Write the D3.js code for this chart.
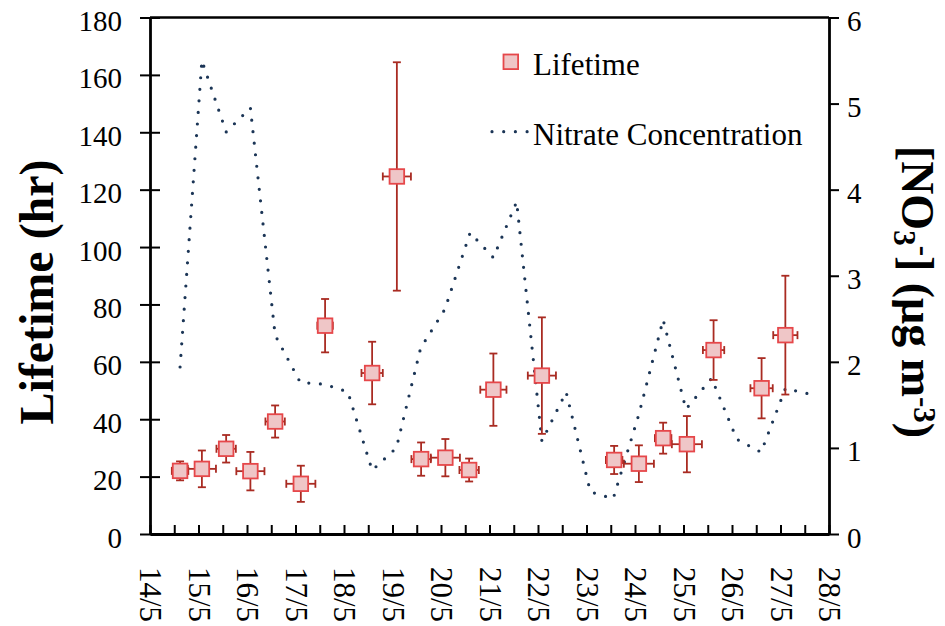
<!DOCTYPE html>
<html><head><meta charset="utf-8">
<script src="https://cdn.jsdelivr.net/npm/d3@7"></script>
<style>body{margin:0;background:#fff}svg{display:block}text{font-family:"Liberation Serif","Times New Roman",serif;fill:#000}</style>
</head><body><svg id="c" width="945" height="626"></svg>
<script>
// ---- data (day of May) ----
const lifeDay   = [14.62,15.07,15.57,16.07,16.58,17.11,17.61,18.58,19.09,19.59,20.09,20.58,21.08,22.08,23.57,24.08,24.58,25.07,25.62,26.61,27.10];
const lifetime  = [22.0,22.7,29.7,21.9,39.2,17.5,72.6,56.1,124.6,26.1,26.6,22.3,50.3,55.2,25.8,24.5,33.4,31.3,64.1,50.8,69.3];
const lifeErrY  = [3.3,6.4,4.8,6.7,5.6,6.3,9.3,10.9,39.8,5.8,6.5,4.0,12.6,20.3,4.9,6.4,5.4,9.8,10.4,10.5,20.7];
const lifeErrX  = [0.17,0.29,0.20,0.29,0.20,0.30,0.16,0.22,0.29,0.20,0.30,0.20,0.27,0.29,0.17,0.31,0.17,0.31,0.22,0.23,0.25];
const nitDay    = [14.62,15.07,15.57,16.07,16.58,17.10,17.60,18.08,18.58,19.08,19.58,20.08,20.60,21.08,21.56,22.08,22.58,23.08,23.55,24.08,24.58,25.05,25.58,26.10,26.60,27.10,27.57];
const nitrate   = [1.94,5.50,4.67,4.95,2.31,1.76,1.74,1.65,0.74,1.00,2.16,2.61,3.50,3.21,3.86,1.08,1.65,0.49,0.41,1.39,2.49,1.45,1.81,1.10,0.95,1.69,1.63];
const xTicks    = [14,14.5,15,15.5,16,16.5,17,17.5,18,18.5,19,19.5,20,20.5,21,21.5,22,22.5,23,23.5,24,24.5,25,25.5,26,26.5,27,27.5,28];
const yTicks    = [0,20,40,60,80,100,120,140,160,180];
const y2Ticks   = [0,1,2,3,4,5,6];

const svg = d3.select("#c");
const L=150, R=829, T=17.5, B=534;
const x  = d3.scaleLinear().domain([14,28]).range([L,R]);
const y  = d3.scaleLinear().domain([0,180]).range([B,T]);
const y2 = d3.scaleLinear().domain([0,6]).range([B,T]);

const errCol="#a92b22", mFill="#efc6c7", mStroke="#e6474a", nitCol="#1b3556";

// nitrate dotted line
svg.append("path").datum(nitDay.map((d,i)=>[d,nitrate[i]]))
  .attr("d", d3.line().x(d=>x(d[0])).y(d=>y2(d[1])))
  .attr("fill","none").attr("stroke",nitCol).attr("stroke-width",3.2)
  .attr("stroke-linecap","round").attr("stroke-dasharray","0 11.6");

// error bars
const g = svg.append("g");
lifeDay.forEach((d,i)=>{
  const cx=x(d), cy=y(lifetime[i]);
  const yt=y(lifetime[i]+lifeErrY[i]), yb=y(lifetime[i]-lifeErrY[i]);
  const xl=x(d-lifeErrX[i]), xr=x(d+lifeErrX[i]);
  const e=g.append("g").attr("stroke",errCol).attr("stroke-width",1.8).attr("fill","none");
  e.append("line").attr("x1",cx).attr("x2",cx).attr("y1",yt).attr("y2",yb);
  e.append("line").attr("x1",cx-4).attr("x2",cx+4).attr("y1",yt).attr("y2",yt);
  e.append("line").attr("x1",cx-4).attr("x2",cx+4).attr("y1",yb).attr("y2",yb);
  e.append("line").attr("x1",xl).attr("x2",xr).attr("y1",cy).attr("y2",cy);
  e.append("line").attr("x1",xl).attr("x2",xl).attr("y1",cy-4).attr("y2",cy+4);
  e.append("line").attr("x1",xr).attr("x2",xr).attr("y1",cy-4).attr("y2",cy+4);
});
// markers
svg.append("g").selectAll("rect").data(lifeDay).join("rect")
  .attr("x",(d)=>x(d)-7.3).attr("y",(d,i)=>y(lifetime[i])-7.3)
  .attr("width",14.6).attr("height",14.6)
  .attr("fill",mFill).attr("stroke",mStroke).attr("stroke-width",1.8);

// axes
const axL = svg.append("g").attr("transform",`translate(${L},0)`)
  .call(d3.axisLeft(y).tickValues(yTicks).tickSize(10).tickSizeOuter(0).tickPadding(18));
axL.selectAll(".tick line").attr("x1",10).attr("x2",-10);
axL.selectAll(".tick text").attr("dy","0.45em").style("font-size","29px");

const axR = svg.append("g").attr("transform",`translate(${R},0)`)
  .call(d3.axisRight(y2).tickValues(y2Ticks).tickFormat(d3.format("d")).tickSize(10).tickSizeOuter(0).tickPadding(8));
axR.selectAll(".tick text").attr("dy","0.45em").style("font-size","29px");

const axB = svg.append("g").attr("transform",`translate(0,${B})`)
  .call(d3.axisBottom(x).tickValues(xTicks).tickSize(-9).tickSizeOuter(0)
    .tickFormat(d=>Number.isInteger(d)? d+"/5" : ""));
axB.selectAll(".tick text").attr("x",0).attr("y",0).attr("dy","0.33em")
  .attr("text-anchor","start").attr("transform","translate(0,33) rotate(90)")
  .style("font-size","31px");

svg.selectAll(".domain").attr("stroke","#000").attr("stroke-width",2.8);
svg.selectAll(".tick line").attr("stroke","#000").attr("stroke-width",2);
svg.selectAll(".tick text").attr("font-family",null).style("font-family","'Liberation Serif',serif");
// top frame
svg.append("line").attr("x1",L).attr("x2",R).attr("y1",T).attr("y2",T).attr("stroke","#000").attr("stroke-width",2.6);
axB.select(".domain").attr("stroke-width",3.2);

// titles
svg.append("text").attr("transform","translate(36,292) rotate(-90)")
  .attr("text-anchor","middle").attr("dy","0.35em")
  .style("font-size","48px").style("font-weight","bold").text("Lifetime (hr)");
const rt = svg.append("text").attr("transform","translate(918,292) rotate(90)")
  .attr("text-anchor","middle").attr("dy","0.35em")
  .style("font-size","46px").style("font-weight","bold");
rt.append("tspan").text("[NO");
rt.append("tspan").attr("baseline-shift","-25%").style("font-size","31px").text("3");
rt.append("tspan").attr("baseline-shift","40%").style("font-size","31px").text("-");
rt.append("tspan").text("] (μg m");
rt.append("tspan").attr("baseline-shift","40%").style("font-size","31px").text("-3");
rt.append("tspan").text(")");

// legend
svg.append("rect").attr("x",503.5).attr("y",54.5).attr("width",14.6).attr("height",14.6)
  .attr("fill",mFill).attr("stroke",mStroke).attr("stroke-width",1.8);
svg.append("text").attr("x",533).attr("y",75).style("font-size","31px").text("Lifetime");
svg.append("line").attr("x1",492).attr("x2",527.5).attr("y1",131.7).attr("y2",131.7)
  .attr("stroke",nitCol).attr("stroke-width",3.2).attr("stroke-linecap","round").attr("stroke-dasharray","0 11.7");
svg.append("text").attr("x",533).attr("y",145).style("font-size","31px").text("Nitrate Concentration");
</script></body></html>
